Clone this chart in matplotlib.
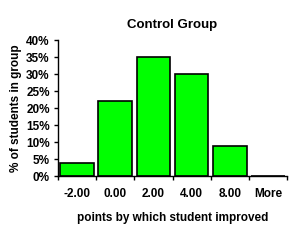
import matplotlib
matplotlib.use("Agg")
import matplotlib.pyplot as plt
import numpy as np

categories = ["-2.00", "0.00", "2.00", "4.00", "8.00", "More"]
percents = [4, 22, 35, 30, 9, 0]
yticks = [0, 5, 10, 15, 20, 25, 30, 35, 40]

plt.rcParams['font.family'] = ['Liberation Sans', 'DejaVu Sans']
plt.rcParams['font.weight'] = 'bold'

fig = plt.figure(figsize=(3.07, 2.40), dpi=100)
ax = fig.add_axes([0.189, 0.265, 0.746, 0.568])

x = np.arange(len(categories))
ax.bar(x, percents, width=0.88, color='#00ff00', edgecolor='black', linewidth=1.2)

ax.set_xlim(-0.5, len(categories) - 0.5)
ax.set_ylim(0, 40)
ax.set_yticks(yticks)
ax.set_yticklabels([f"{v}%" for v in yticks], fontsize=8.5, fontweight='bold')
ax.set_xticks(x)
ax.set_xticklabels(categories, fontsize=8.5, fontweight='bold')
ax.set_xticks(np.arange(len(categories) + 1) - 0.5, minor=True)
ax.tick_params(axis='x', which='major', length=0, pad=8)
ax.tick_params(axis='x', which='minor', length=3, width=1, direction='out')
ax.tick_params(axis='y', length=3, width=1, direction='out', pad=3)

for s in ['top', 'right']:
    ax.spines[s].set_visible(False)
ax.spines['left'].set_linewidth(1)
ax.spines['bottom'].set_linewidth(1)

ax.set_title("Control Group", fontsize=9.5, fontweight='bold', pad=9)
ax.set_xlabel("points by which student improved", fontsize=8.5, fontweight='bold', labelpad=9)
ax.set_ylabel("% of students in group", fontsize=8.5, fontweight='bold', labelpad=3)

fig.savefig("out.png", dpi=100)
